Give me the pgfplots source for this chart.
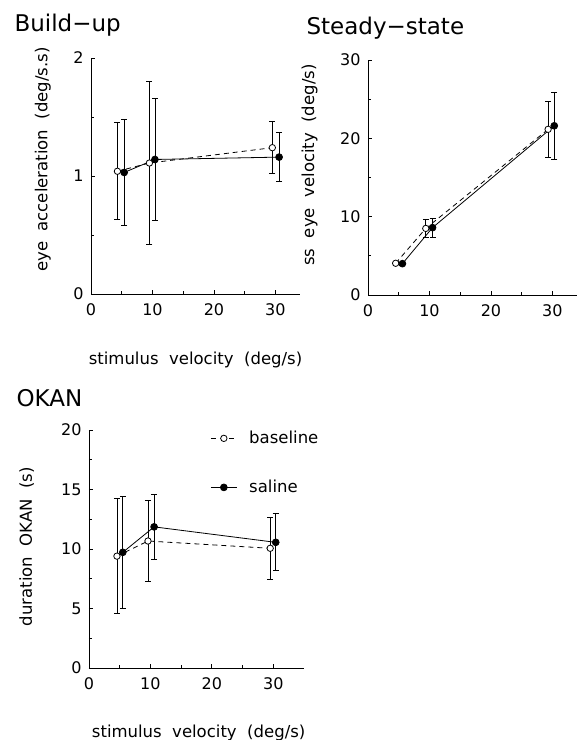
\documentclass[border=0pt]{standalone}
\usepackage{fontspec}
\setmainfont{DejaVu Sans}[WordSpace=2]
\usepackage{pgfplots}
\usepackage{pgfplotstable}
\pgfplotsset{compat=1.18}

\newcommand{\ttl}{\fontsize{23}{26}\selectfont}
\newcommand{\lbl}{\fontsize{16.5}{19}\selectfont}
\newcommand{\tck}{\fontsize{16}{18}\selectfont}

% x  y  error (symmetric)
\pgfplotstableread{
x y e
4.3 1.04 0.41
9.5 1.11 0.69
29.5 1.24 0.22
}\buildbase
\pgfplotstableread{
x y e
5.4 1.03 0.45
10.4 1.14 0.52
30.6 1.16 0.21
}\buildsal
\pgfplotstableread{
x y e
4.5 4.05 0.2
9.4 8.5 1.15
29.3 21.15 3.6
}\ssbase
\pgfplotstableread{
x y e
5.6 4.0 0.2
10.5 8.6 1.2
30.3 21.6 4.25
}\sssal
\pgfplotstableread{
x y e
4.55 9.4 4.85
9.6 10.67 3.4
29.5 10.06 2.6
}\okanbase
\pgfplotstableread{
x y e
5.5 9.72 4.7
10.6 11.86 2.7
30.4 10.56 2.4
}\okansal

\pgfplotsset{
  panel/.style={
    scale only axis,
    axis x line*=bottom, axis y line*=left,
    axis line style={line width=0.9pt},
    tick align=inside,
    major tick length=4pt, minor tick length=3pt,
    every tick/.style={black, line width=0.8pt},
    xmin=0, xtick={0,10,20,30}, minor xtick={5,15,25},
    tick label style={font=\tck},
    /pgf/number format/assume math mode=true,
    xticklabel style={yshift=-6pt},
    yticklabel style={xshift=-4pt},
    label style={font=\lbl},
    clip=false,
  },
  base/.style={black, line width=0.8pt, dash pattern=on 5pt off 4pt,
    mark=*, mark size=3.2pt, mark options={solid, fill=white, draw=black},
    error bars/.cd, y dir=both, y explicit,
    error bar style={solid, line width=0.8pt},
    error mark options={rotate=90, mark size=3pt, solid, line width=0.8pt}},
  sal/.style={black, line width=0.8pt, solid,
    mark=*, mark size=3.4pt, mark options={fill=black},
    error bars/.cd, y dir=both, y explicit,
    error bar style={solid, line width=0.8pt},
    error mark options={rotate=90, mark size=3pt, solid, line width=0.8pt}},
}

\begin{document}
\begin{tikzpicture}
\useasboundingbox (0,0) rectangle (578pt,740pt);

% Build-up
\node[anchor=west, font=\ttl] at (11pt,715pt) {Build−up};
\begin{axis}[panel,
    at={(91pt,446pt)}, anchor=south west,
    width=209pt, height=236pt,
    xmax=34, ymin=0, ymax=2,
    ytick={0,1,2}, minor ytick={0.5,1.5},
    xlabel={stimulus velocity (deg/s)},
    ylabel={eye acceleration (deg/s.s)},
    xlabel style={at={(axis description cs:0.5,-0.28)}, anchor=center},
    ylabel style={at={(axis description cs:-0.23,0.57)}, anchor=center},
]
\addplot[base] table[x=x, y=y, y error=e] {\buildbase};
\addplot[sal] table[x=x, y=y, y error=e] {\buildsal};
\end{axis}

% Steady-state
\node[anchor=west, font=\ttl] at (303pt,712pt) {Steady−state};
\begin{axis}[panel,
    at={(368pt,445pt)}, anchor=south west,
    width=209pt, height=235pt,
    xmax=34, ymin=0, ymax=30,
    ytick={0,10,20,30}, minor ytick={5,15,25},
    ylabel={ss eye velocity (deg/s)},
    ylabel style={at={(axis description cs:-0.28,0.553)}, anchor=center},
]
\addplot[base] table[x=x, y=y, y error=e] {\ssbase};
\addplot[sal] table[x=x, y=y, y error=e] {\sssal};
\end{axis}

% OKAN
\node[anchor=west, font=\ttl] at (13pt,342pt) {OKAN};
\begin{axis}[panel,
    at={(89pt,72pt)}, anchor=south west,
    width=215pt, height=238pt,
    xmax=35, ymin=0, ymax=20,
    ytick={0,5,10,15,20}, minor ytick={2.5,7.5,12.5,17.5},
    xlabel={stimulus velocity (deg/s)},
    ylabel={duration OKAN (s)},
    xlabel style={at={(axis description cs:0.51,-0.273)}, anchor=center},
    ylabel style={at={(axis description cs:-0.29,0.51)}, anchor=center},
    legend style={at={(0.55,1.012)}, anchor=north west, draw=none, fill=none,
      font=\lbl, row sep=31pt, column sep=10pt},
    legend cell align=left,
    legend image code/.code={\draw[mark repeat=2, mark phase=2, #1]
      plot coordinates {(0pt,0pt) (13pt,0pt) (26pt,0pt)};},
]
\addplot[base] table[x=x, y=y, y error=e] {\okanbase};
\addlegendentry{baseline}
\addplot[sal] table[x=x, y=y, y error=e] {\okansal};
\addlegendentry{saline}
\end{axis}
\end{tikzpicture}
\end{document}
